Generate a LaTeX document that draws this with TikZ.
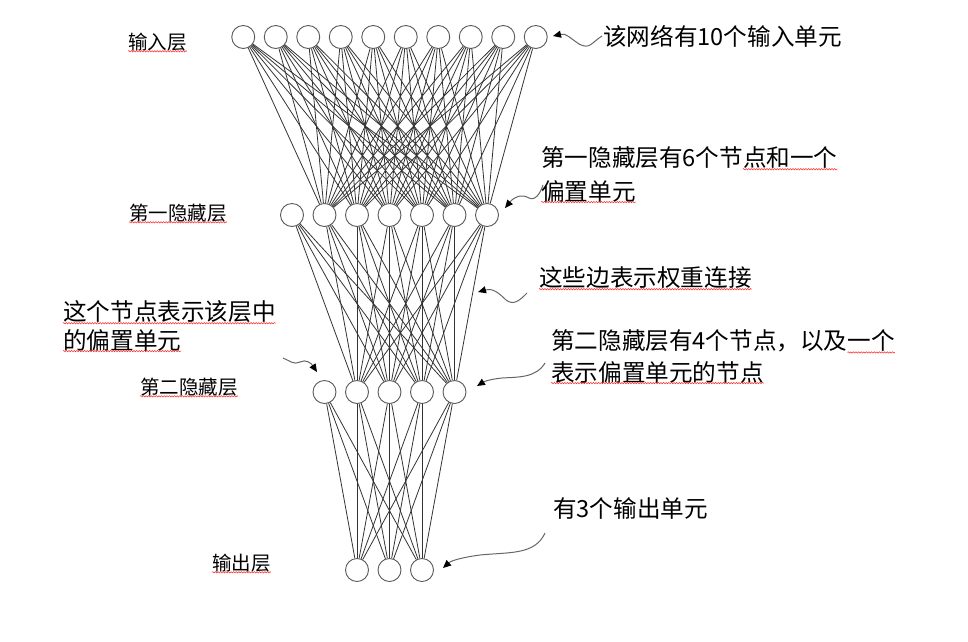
\documentclass[tikz,border=0pt]{standalone}
\usepackage{fontspec}
\setmainfont{Noto Sans CJK SC}
\usetikzlibrary{arrows.meta,calc,decorations.pathmorphing}

\begin{document}
\begin{tikzpicture}[x=1pt, y=-1pt,
    neuron/.style={circle, draw=black!65, line width=0.9pt, fill=white, minimum size=23pt, inner sep=0pt},
    edge/.style={draw=black!80, line width=0.8pt},
    layer/.style={anchor=west, inner sep=0pt, font=\fontsize{19.5}{20}\selectfont},
    note/.style={anchor=west, inner sep=0pt, font=\fontsize{23.6}{26}\selectfont},
    wavy/.style={draw=black!60, line width=1pt, -{Triangle[length=8pt, width=7pt, color=black]}},
    spell/.style={draw=red!85, line width=0.5pt, decorate, decoration={snake, amplitude=0.7pt, segment length=2.6pt}}]
    \useasboundingbox (0,0) rectangle (968,641);

    % 输入层 (10个单元)
    \foreach \i in {1,...,10}
        \node[neuron] (In\i) at ({389.5+(\i-5.5)*32.5}, 37) {};

    % 第一隐藏层 (Ha0 是偏置单元)
    \foreach \k in {0,...,6}
        \node[neuron] (Ha\k) at ({389.5+(\k-3)*32.5}, 215) {};

    % 第二隐藏层 (Hb0 是偏置单元)
    \foreach \k in {0,...,4}
        \node[neuron] (Hb\k) at ({389.5+(\k-2)*32.5}, 392) {};

    % 输出层
    \foreach \k in {1,2,3}
        \node[neuron] (Out\k) at ({389.5+(\k-2)*32.5}, 570) {};

    % 权重连接 (偏置单元没有输入)
    \foreach \i in {1,...,10}
        \foreach \j in {1,...,6}
            \draw[edge] (In\i) -- (Ha\j);
    \foreach \i in {0,...,6}
        \foreach \j in {1,...,4}
            \draw[edge] (Ha\i) -- (Hb\j);
    \foreach \i in {0,...,4}
        \foreach \j in {1,2,3}
            \draw[edge] (Hb\i) -- (Out\j);

    % 层的名字
    \node[layer] (lblIn) at (128, 42) {输入层};
    \node[layer] (lblHa) at (129, 213) {第一隐藏层};
    \node[layer] (lblHb) at (140, 387) {第二隐藏层};
    \node[layer] (lblOut) at (212, 563) {输出层};

    % 说明文字
    \node[note] (noteIn) at (603, 36) {该网络有10个输入单元};
    \node[note] (noteHa1) at (541, 158) {第一隐藏层有6个节点和一个};
    \node[note] (noteHa2) at (541, 191) {偏置单元};
    \node[note] (noteW) at (539, 278) {这些边表示权重连接};
    \node[note] (noteHb1) at (551, 341) {第二隐藏层有4个节点，以及一个};
    \node[note] (noteHb2) at (551, 372) {表示偏置单元的节点};
    \node[note] (noteBias1) at (63, 312) {这个节点表示该层中};
    \node[note] (noteBias2) at (63, 340) {的偏置单元};
    \node[note] (noteOut) at (553, 508) {有3个输出单元};

    % 箭头的端点
    \coordinate (tipIn) at (553, 36);
    \coordinate (tailHa) at (543, 185);
    \coordinate (tipHa) at (505, 208);
    \coordinate (tailW) at (527, 293);
    \coordinate (tipW) at (478, 292);
    \coordinate (tailHb) at (545, 363);
    \coordinate (tipHb) at (477, 386);
    \coordinate (tailBias) at (283, 358);
    \coordinate (tipBias) at (317, 372);
    \coordinate (tailOut) at (545, 533);
    \coordinate (tipOut) at (443, 568);

    % 弯曲的箭头
    \draw[wavy] ([xshift=-1pt]noteIn.west) .. controls (592,42) and (590,50) .. (579,44) .. controls (570,38) and (566,33) .. (tipIn);
    \draw[wavy] (tailHa) .. controls (540,194) and (535,201) .. (529,198) .. controls (522,194) and (515,196) .. (tipHa);
    \draw[wavy] (tailW) .. controls (520,300) and (514,306) .. (506,300) .. controls (498,292) and (492,288) .. (tipW);
    \draw[wavy] (tailHb) .. controls (536,378) and (518,377) .. (502,378) .. controls (492,379) and (485,381) .. (tipHb);
    \draw[wavy] (tailBias) .. controls (290,361) and (294,365) .. (300,362) .. controls (306,359) and (311,363) .. (tipBias);
    \draw[wavy] (tailOut) .. controls (535,555) and (510,552) .. (480,555) .. controls (465,557) and (452,560) .. (tipOut);

    % 红色波浪线
    \draw[spell] (lblIn.south west) -- (lblIn.south east);
    \draw[spell] (lblHa.south west) -- (lblHa.south east);
    \draw[spell] (lblHb.south west) -- (lblHb.south east);
    \draw[spell] (lblOut.south west) -- (lblOut.south east);
    \draw[spell] ($(noteHa1.south west)!0.68!(noteHa1.south east)$) -- (noteHa1.south east);
    \draw[spell] (noteHa2.south west) -- (noteHa2.south east);
    \draw[spell] (noteW.south west) -- (noteW.south east);
    \draw[spell] ($(noteHb1.south west)!0.862!(noteHb1.south east)$) -- (noteHb1.south east);
    \draw[spell] (noteHb2.south west) -- (noteHb2.south east);
    \draw[spell] (noteBias1.south west) -- (noteBias1.south east);
    \draw[spell] (noteBias2.south west) -- (noteBias2.south east);
  \end{tikzpicture}
\end{document}
